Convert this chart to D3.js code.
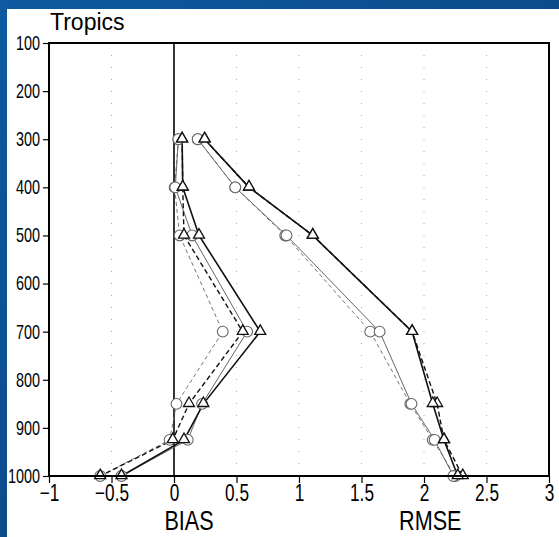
<!DOCTYPE html>
<html>
<head>
<meta charset="utf-8">
<script src="https://cdn.jsdelivr.net/npm/d3@7"></script>
<style>
  html, body { margin: 0; padding: 0; }
  body { width: 559px; height: 537px; overflow: hidden; }
  svg { display: block; }
</style>
</head>
<body>
<svg id="chart" width="559" height="537"></svg>
<script>
// ---- data ----
const levels = [300, 400, 500, 700, 850, 925, 1000];
const biasBlackSolid  = [0.065, 0.07, 0.20, 0.69, 0.235, 0.08, -0.42];
const biasBlackDashed = [0.065, 0.07, 0.08, 0.55, 0.12, -0.01, -0.59];
const biasGraySolid   = [0.035, 0.01, 0.145, 0.585, 0.225, 0.11, -0.42];
const biasGrayDashed  = [0.035, 0.005, 0.045, 0.39, 0.02, -0.035, -0.59];
const rmseBlackSolid  = [0.245, 0.60, 1.11, 1.905, 2.07, 2.16, 2.27];
const rmseBlackDashed = [0.245, 0.60, 1.11, 1.905, 2.105, 2.16, 2.31];
const rmseGraySolid   = [0.19, 0.49, 0.90, 1.645, 1.90, 2.085, 2.235];
const rmseGrayDashed  = [0.19, 0.49, 0.89, 1.57, 1.89, 2.07, 2.25];
const yTicks = [100, 200, 300, 400, 500, 600, 700, 800, 900, 1000];
const xTicks = [-1, -0.5, 0, 0.5, 1, 1.5, 2, 2.5, 3];
const title = "Tropics";
const xLabels = [{text: "BIAS", v: 0.12}, {text: "RMSE", v: 2.05}];

// ---- styles ----
const styles = {
  blackSolid:  {stroke: "#111", width: 1.6, dash: null, marker: "triangle"},
  blackDashed: {stroke: "#111", width: 1.4, dash: "5,3", marker: "triangle"},
  graySolid:   {stroke: "#666", width: 1.0, dash: null, marker: "circle"},
  grayDashed:  {stroke: "#777", width: 1.0, dash: "4,3", marker: "circle"}
};
const series = [
  {vals: biasGrayDashed, st: styles.grayDashed},
  {vals: biasGraySolid, st: styles.graySolid},
  {vals: biasBlackDashed, st: styles.blackDashed},
  {vals: biasBlackSolid, st: styles.blackSolid},
  {vals: rmseGrayDashed, st: styles.grayDashed},
  {vals: rmseGraySolid, st: styles.graySolid},
  {vals: rmseBlackDashed, st: styles.blackDashed},
  {vals: rmseBlackSolid, st: styles.blackSolid}
];

const svg = d3.select("#chart");

// background (slide)
const defs = svg.append("defs");
const grad = defs.append("linearGradient").attr("id", "bg")
  .attr("x1", "0").attr("y1", "0").attr("x2", "1").attr("y2", "1");
grad.append("stop").attr("offset", "0").attr("stop-color", "#0d5aa0");
grad.append("stop").attr("offset", "1").attr("stop-color", "#0a3e78");
svg.append("rect").attr("width", 559).attr("height", 537).attr("fill", "url(#bg)");
svg.append("rect").attr("x", 7).attr("y", 9).attr("width", 552).attr("height", 528).attr("fill", "#ffffff");

const x = d3.scaleLinear().domain([-1, 3]).range([49, 549]);
const y = d3.scaleLinear().domain([100, 1000]).range([43, 476]);

// dotted grid
svg.append("g").selectAll("line").data(xTicks.filter(d => d > -1 && d < 3 && d !== 0))
  .join("line")
  .attr("x1", d => x(d)).attr("x2", d => x(d))
  .attr("y1", y(100)).attr("y2", y(1000))
  .attr("stroke", "#aaa").attr("stroke-width", 1).attr("stroke-dasharray", "1,11");

// zero line
svg.append("line").attr("x1", x(0)).attr("x2", x(0)).attr("y1", y(100)).attr("y2", y(1000))
  .attr("stroke", "#000").attr("stroke-width", 1.6);

// lines
const line = d3.line().x(d => x(d[0])).y(d => y(d[1]));
series.forEach(s => {
  const pts = s.vals.map((v, i) => [v, levels[i]]);
  svg.append("path").attr("d", line(pts)).attr("fill", "none")
    .attr("stroke", s.st.stroke).attr("stroke-width", s.st.width)
    .attr("stroke-dasharray", s.st.dash);
});
// markers
const tri = d3.symbol().type(d3.symbolTriangle).size(52);
series.forEach(s => {
  const pts = s.vals.map((v, i) => [v, levels[i]]);
  const g = svg.append("g");
  if (s.st.marker === "circle") {
    g.selectAll("circle").data(pts).join("circle")
      .attr("cx", d => x(d[0])).attr("cy", d => y(d[1])).attr("r", 5.4)
      .attr("fill", "#fff").attr("stroke", "#666").attr("stroke-width", 1.1);
  } else {
    g.selectAll("path").data(pts).join("path")
      .attr("d", tri)
      .attr("transform", d => `translate(${x(d[0])},${y(d[1]) - 0.5})`)
      .attr("fill", "#fff").attr("stroke", "#111").attr("stroke-width", 1.3);
  }
});

function squeeze(sel, sx, sy) {
  sel.each(function() {
    const t = d3.select(this);
    const x0 = +t.attr("x") || 0, y0 = +t.attr("y") || 0;
    t.attr("x", x0 / sx).attr("y", y0 / sy).attr("transform", `scale(${sx},${sy})`);
  });
}

// axes
const fontFam = "'Liberation Sans', Arial, sans-serif";
const yAxis = svg.append("g").attr("transform", `translate(${x(-1)},0)`)
  .call(d3.axisLeft(y).tickValues(yTicks).tickSize(6).tickPadding(3).tickFormat(d3.format("d")));
yAxis.select(".domain").remove();
yAxis.selectAll("line").attr("stroke", "#000").attr("stroke-width", 1.2);
yAxis.selectAll("text").attr("font-family", fontFam).attr("font-size", 20).attr("fill", "#000");
squeeze(yAxis.selectAll("text"), 0.72, 1);

const xAxis = svg.append("g").attr("transform", `translate(0,${y(1000)})`)
  .call(d3.axisBottom(x).tickValues(xTicks).tickSize(7).tickPadding(2).tickFormat(d3.format("")));
xAxis.select(".domain").remove();
xAxis.selectAll("line").attr("stroke", "#000").attr("stroke-width", 1.2);
xAxis.selectAll("text").attr("font-family", fontFam).attr("font-size", 23).attr("fill", "#000");
squeeze(xAxis.selectAll("text"), 0.75, 1);

// frame
svg.append("rect").attr("x", x(-1)).attr("y", y(100))
  .attr("width", x(3) - x(-1)).attr("height", y(1000) - y(100))
  .attr("fill", "none").attr("stroke", "#000").attr("stroke-width", 2);

// title
svg.append("text").attr("x", 50).attr("y", 30).text(title)
  .attr("font-family", fontFam).attr("font-size", 23).attr("fill", "#000");

// bottom labels
const bl = svg.append("g").selectAll("text").data(xLabels).join("text")
  .attr("x", d => x(d.v)).attr("y", 530).attr("text-anchor", "middle")
  .attr("font-family", fontFam).attr("font-size", 27).attr("fill", "#000")
  .text(d => d.text);
squeeze(bl, 0.8, 1);
</script>
</body>
</html>
